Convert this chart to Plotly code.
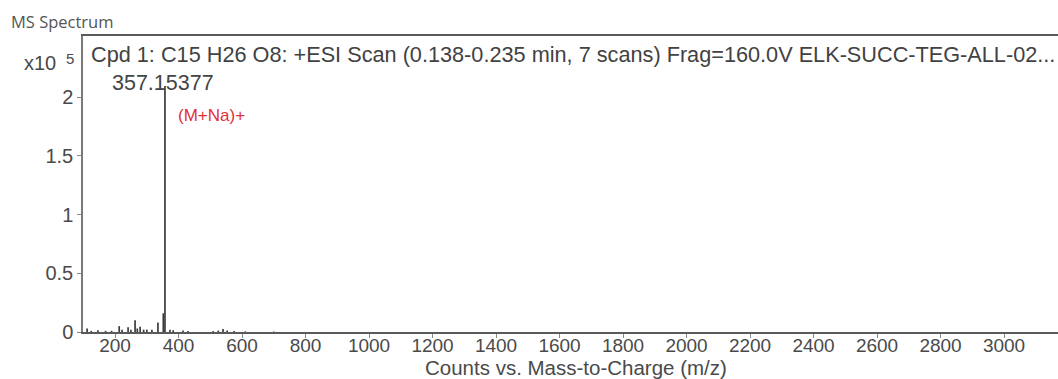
import plotly.graph_objects as go

# Centroided peaks: m/z and abundance (counts, in units of 10^5)
mz = [112, 125, 146, 170, 189, 213, 222, 241, 250, 263, 270, 279, 290,
      300, 316, 335, 352, 357.15377, 373, 383, 414, 430, 509, 525, 540,
      553, 575, 610, 700]
abundance = [0.03, 0.01, 0.015, 0.01, 0.01, 0.05, 0.02, 0.04, 0.02, 0.10,
             0.03, 0.045, 0.02, 0.02, 0.02, 0.08, 0.16, 2.095, 0.02, 0.015,
             0.012, 0.008, 0.008, 0.012, 0.025, 0.012, 0.008, 0.005, 0.004]

base_peak_mz = 357.15377
base_peak_label = "357.15377"
ion_label = "(M+Na)+"
scan_title = ("Cpd 1: C15 H26 O8: +ESI Scan (0.138-0.235 min, 7 scans) "
              "Frag=160.0V ELK-SUCC-TEG-ALL-02...")

x_ticks = list(range(200, 3001, 200))
y_ticks = [0, 0.5, 1, 1.5, 2]
y_tick_text = ["0", "0.5", "1", "1.5", "2"]

# stick spectrum
sx, sy = [], []
for m, a in zip(mz, abundance):
    sx += [m, m, None]
    sy += [0, a, None]

base_height = abundance[mz.index(base_peak_mz)]

W, H = 1058, 379
L, R, T, B = 83, 0, 36, 47
pw, ph = W - L - R, H - T - B

font_main = "Liberation Sans, Arial, sans-serif"
text_grey = "#4a4a4a"

fig = go.Figure()
fig.add_trace(go.Scatter(x=sx, y=sy, mode="lines",
                         line=dict(color="#3c3c3c", width=1.7),
                         hoverinfo="skip", showlegend=False))

fig.update_layout(
    width=W, height=H,
    margin=dict(l=L, r=R, t=T, b=B),
    paper_bgcolor="white", plot_bgcolor="white",
    xaxis=dict(range=[99, 3170], tickvals=x_ticks,
               showgrid=False, zeroline=False,
               showline=True, linecolor="#5a5a5a", linewidth=2, mirror=True,
               ticks="outside", ticklen=4, tickcolor="#888",
               ticklabelstandoff=-9,
               tickfont=dict(family=font_main, size=19, color=text_grey)),
    yaxis=dict(range=[0, 2.52], tickvals=y_ticks, ticktext=y_tick_text,
               showgrid=False, zeroline=False,
               showline=True, linecolor="#7a7a7a", linewidth=1.5,
               ticks="outside", ticklen=4, tickcolor="#888",
               tickfont=dict(family=font_main, size=20, color=text_grey)),
)


def page_label(text, px, py, font, anchor="left"):
    """Place a text label at a page pixel position (converted to paper coords)."""
    fig.add_annotation(text=text, showarrow=False,
                       xref="paper", yref="paper",
                       x=(px - L) / pw, y=1 - (py - T) / ph,
                       xanchor=anchor, yanchor="middle", font=font)


page_label("MS Spectrum", 9, 21,
           dict(family="Open Sans, DejaVu Sans, sans-serif", size=16.5, color="#555"))
page_label("x10", 22, 63, dict(family=font_main, size=20, color=text_grey))
page_label("5", 64, 58, dict(family=font_main, size=15, color=text_grey))
page_label(scan_title, 89, 55, dict(family=font_main, size=21.7, color="#424242"))
page_label("Counts vs. Mass-to-Charge (m/z)", 423, 367,
           dict(family=font_main, size=20.5, color=text_grey))

# base peak labels in data coordinates
fig.add_annotation(x=base_peak_mz, y=base_height, text=base_peak_label,
                   showarrow=False, xanchor="center", yanchor="middle",
                   xshift=-2, yshift=3,
                   font=dict(family=font_main, size=21.5, color="#444"))
fig.add_annotation(x=base_peak_mz, y=base_height, text=ion_label,
                   showarrow=False, xanchor="left", yanchor="middle",
                   xshift=11, yshift=-30,
                   font=dict(family=font_main, size=17, color="#e0303a"))

fig.write_html("out.html")
